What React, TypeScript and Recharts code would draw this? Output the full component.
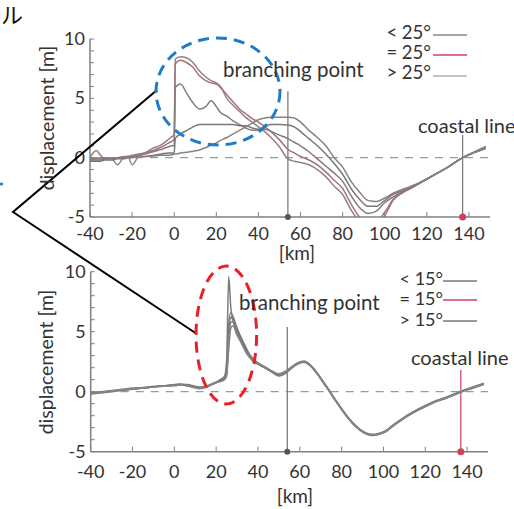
import React from 'react';
import { LineChart, Line, XAxis, YAxis, ReferenceLine, ReferenceDot } from 'recharts';

const FONT = 'Lato, "Open Sans", sans-serif';

// ---------- top panel (dip angles around 25°) ----------
const topKm = [-40, -37, -35, -33, -30, -27, -24, -22, -20, -17, -14, -10, -6, -3, -1, 0, 0.5, 3, 6, 9, 12, 15, 17.5, 20, 22, 25, 28, 31, 34, 37, 40, 43, 46, 50, 54, 57, 60, 64, 68, 72, 76, 80, 84, 88, 92, 96, 100, 104, 108, 112, 116, 120, 125, 130, 137, 142, 148];
const topA = [0.0, 0.6, 0.2, -0.1, 0.0, -0.6, 0.0, 0.1, -0.6, 0.1, 0.4, 0.8, 1.1, 1.5, 1.8, 1.9, 8.3, 8.5, 8.4, 8.0, 7.3, 6.8, 6.5, 6.3, 6.0, 5.0, 4.4, 3.9, 3.4, 3.0, 2.6, 2.2, 1.7, 0.9, -0.1, -0.3, -0.4, -0.6, -1.0, -1.6, -2.4, -3.1, -4.4, -5.4, -5.8, -5.6, -4.9, -3.6, -3.0, -2.6, -2.2, -1.8, -1.3, -0.8, 0.0, 0.45, 0.95];
const topB = [-0.2, -0.1, -0.1, -0.1, 0.0, 0.0, 0.1, 0.1, 0.2, 0.3, 0.4, 0.6, 0.9, 1.2, 1.4, 1.5, 7.9, 8.2, 8.0, 7.6, 6.9, 6.5, 6.3, 6.2, 5.9, 5.3, 4.7, 4.1, 3.7, 3.3, 3.0, 2.6, 2.2, 1.5, 0.7, 0.4, 0.1, -0.2, -0.6, -1.2, -1.9, -2.6, -3.9, -5.0, -5.5, -5.4, -4.6, -3.5, -3.0, -2.6, -2.2, -1.8, -1.3, -0.8, 0.0, 0.4, 0.85];
const topC = [-0.2, -0.2, -0.2, -0.1, -0.1, 0.0, 0.0, 0.1, 0.1, 0.2, 0.3, 0.5, 0.7, 0.9, 1.0, 1.0, 5.9, 6.2, 5.4, 4.6, 4.1, 4.3, 4.8, 4.3, 3.8, 3.5, 3.1, 2.8, 2.5, 2.3, 2.3, 2.4, 2.2, 1.9, 1.6, 1.3, 1.0, 0.5, -0.1, -0.7, -1.3, -2.0, -3.2, -4.2, -4.7, -4.5, -3.8, -3.3, -2.9, -2.6, -2.2, -1.8, -1.3, -0.8, 0.0, 0.4, 0.8];
const topD = [-0.3, -0.3, -0.3, -0.2, -0.2, -0.1, -0.1, 0.0, 0.0, 0.1, 0.1, 0.2, 0.3, 0.4, 0.4, 0.4, 1.6, 2.0, 2.3, 2.6, 2.8, 2.8, 2.8, 2.8, 2.8, 2.8, 2.8, 2.7, 2.7, 2.5, 2.4, 2.6, 2.8, 2.8, 2.75, 2.6, 2.2, 1.6, 1.0, 0.3, -0.5, -1.4, -2.6, -3.5, -4.1, -4.1, -3.6, -3.1, -2.8, -2.5, -2.2, -1.8, -1.3, -0.8, 0.0, 0.4, 0.8];
const topE = [-0.1, -0.1, 0.0, 0.0, 0.0, 0.0, 0.0, 0.05, 0.1, 0.1, 0.1, 0.15, 0.2, 0.2, 0.25, 0.3, 0.3, 0.4, 0.45, 0.55, 0.65, 0.85, 1.05, 1.25, 1.45, 1.7, 2.0, 2.3, 2.6, 2.9, 3.2, 3.35, 3.4, 3.4, 3.4, 3.35, 3.0, 2.3, 1.7, 1.0, 0.0, -0.8, -2.0, -2.9, -3.6, -3.7, -3.4, -3.0, -2.7, -2.45, -2.15, -1.8, -1.3, -0.8, 0.0, 0.4, 0.8];
const topColors = ['#8f8385', '#a8707c', '#857b7b', '#7b7676', '#8a8080'];

// ---------- bottom panel (dip angles around 15°) ----------
const botKm = [-40, -35, -30, -25, -20, -15, -10, -5, 0, 3, 6, 9, 12, 15, 18, 20, 22, 24, 25, 26, 27, 28, 30, 32, 34, 36, 38, 40, 43, 46, 50, 53, 56, 59, 62, 65, 68, 71, 74, 77, 80, 83, 86, 89, 92, 95, 98, 101, 104, 108, 112, 116, 120, 125, 130, 137, 142, 148];
const botA = [-0.15, -0.05, 0.05, 0.15, 0.25, 0.3, 0.4, 0.5, 0.55, 0.6, 0.5, 0.4, 0.3, 0.4, 0.6, 0.75, 1.0, 1.3, 2.6, 9.6, 7.0, 6.0, 5.0, 4.3, 3.6, 3.0, 2.6, 2.35, 2.05, 1.75, 1.35, 1.55, 2.0, 2.35, 2.5, 2.2, 1.6, 0.85, 0.1, -0.7, -1.45, -2.15, -2.75, -3.2, -3.5, -3.6, -3.5, -3.3, -2.9, -2.4, -1.95, -1.55, -1.2, -0.8, -0.5, 0.0, 0.3, 0.65];
const botB = [-0.1, 0.0, 0.1, 0.2, 0.3, 0.35, 0.45, 0.5, 0.6, 0.65, 0.6, 0.5, 0.4, 0.45, 0.65, 0.8, 1.0, 1.2, 1.8, 5.6, 6.6, 6.3, 5.3, 4.5, 3.8, 3.1, 2.7, 2.4, 2.1, 1.8, 1.5, 1.7, 2.05, 2.4, 2.55, 2.25, 1.65, 0.9, 0.15, -0.65, -1.4, -2.1, -2.7, -3.15, -3.45, -3.55, -3.45, -3.25, -2.85, -2.35, -1.9, -1.5, -1.15, -0.75, -0.45, 0.05, 0.35, 0.7];
const botC = [-0.15, -0.05, 0.05, 0.15, 0.25, 0.3, 0.4, 0.5, 0.55, 0.6, 0.55, 0.45, 0.35, 0.45, 0.65, 0.8, 0.95, 1.15, 1.5, 4.8, 6.2, 6.0, 5.1, 4.4, 3.6, 3.0, 2.6, 2.35, 2.05, 1.75, 1.4, 1.6, 2.0, 2.35, 2.5, 2.2, 1.6, 0.85, 0.1, -0.7, -1.45, -2.15, -2.75, -3.2, -3.5, -3.6, -3.5, -3.3, -2.9, -2.4, -1.95, -1.55, -1.2, -0.8, -0.5, 0.0, 0.3, 0.65];
const botD = [-0.2, -0.1, 0.0, 0.1, 0.2, 0.3, 0.4, 0.45, 0.5, 0.55, 0.5, 0.4, 0.3, 0.4, 0.6, 0.75, 0.9, 1.1, 1.4, 4.2, 5.8, 5.8, 4.9, 4.2, 3.45, 2.9, 2.5, 2.3, 2.0, 1.7, 1.3, 1.5, 1.95, 2.3, 2.45, 2.15, 1.55, 0.8, 0.05, -0.75, -1.5, -2.2, -2.8, -3.25, -3.55, -3.65, -3.55, -3.35, -2.95, -2.45, -2.0, -1.6, -1.25, -0.85, -0.55, -0.05, 0.25, 0.6];
const botE = [-0.15, -0.05, 0.05, 0.15, 0.25, 0.3, 0.4, 0.5, 0.55, 0.6, 0.5, 0.35, 0.25, 0.35, 0.6, 0.75, 0.85, 1.0, 1.3, 3.5, 5.3, 5.5, 4.7, 4.05, 3.35, 2.85, 2.45, 2.3, 2.0, 1.75, 1.45, 1.65, 2.05, 2.4, 2.5, 2.2, 1.6, 0.85, 0.1, -0.7, -1.45, -2.15, -2.75, -3.2, -3.5, -3.6, -3.5, -3.3, -2.9, -2.4, -1.95, -1.55, -1.2, -0.8, -0.5, 0.0, 0.3, 0.65];
const botColors = ['#7a7a7a', '#808080', '#777777', '#7d7d7d', '#858585'];

// ---------- axes / markers ----------
const xTicks = [-40, -20, 0, 20, 40, 60, 80, 100, 120, 140];
const yTicks = [-5, -4, -3, -2, -1, 0, 1, 2, 3, 4, 5, 6, 7, 8, 9, 10];
const branchKm = 54;
const coastKm = 137;
const topBranchTop = 5.6;
const topCoastTop = 1.9;
const botBranchTop = 5.4;
const botCoastTop = 1.8;

const keys = ['a', 'b', 'c', 'd', 'e'];

function makeRows(km: number[], series: number[][]) {
  return km.map((k, i) => {
    const row: any = { km: k };
    series.forEach((s, j) => { row[keys[j]] = s[i]; });
    return row;
  });
}

const topData = makeRows(topKm, [topA, topB, topC, topD, topE]);
const botData = makeRows(botKm, [botA, botB, botC, botD, botE]);

const AXIS = '#808080';

const makeYTick = (dy: number) => (props: any) => {
  const { x, y, payload } = props;
  const v = payload.value;
  return (
    <g>
      <line x1={x} x2={x + 4} y1={y} y2={y} stroke={AXIS} strokeWidth={1} />
      {v % 5 === 0 && (
        <text x={x - 5} y={y + dy} textAnchor="end" fontSize={18} fill="#333" fontFamily={FONT}>{v}</text>
      )}
    </g>
  );
};

const makeXTick = (dy: number) => (props: any) => {
  const { x, y, payload } = props;
  return (
    <g>
      <line x1={x} x2={x} y1={y} y2={y - 5} stroke={AXIS} strokeWidth={1} />
      <text x={x} y={y + dy} textAnchor="middle" fontSize={18} fill="#333" fontFamily={FONT}>{payload.value}</text>
    </g>
  );
};

function Panel(props: {
  data: any[]; colors: string[]; margin: any; height: number; xDy: number;
  branchTop: number; coastTop: number; coastColor: string;
}) {
  const { data, colors, margin, height, xDy, branchTop, coastTop, coastColor } = props;
  return (
    <LineChart width={514} height={height} data={data} margin={margin}>
      <XAxis dataKey="km" type="number" domain={[-40, 150]} allowDataOverflow ticks={xTicks} interval={0}
        height={30} tickSize={0} tickMargin={0} tickLine={false}
        axisLine={{ stroke: AXIS, strokeWidth: 1.5 }} tick={makeXTick(xDy)} />
      <YAxis type="number" domain={[-5, 10]} allowDataOverflow ticks={yTicks} interval={0}
        width={40} tickSize={0} tickMargin={0} tickLine={false}
        axisLine={{ stroke: AXIS, strokeWidth: 1.5 }} tick={makeYTick(6)} />
      <ReferenceLine y={0} stroke="#9a9a9a" strokeWidth={1.2} strokeDasharray="8 7" />
      <ReferenceLine segment={[{ x: branchKm, y: branchTop }, { x: branchKm, y: -5 }]} stroke="#707070" strokeWidth={1.2} />
      <ReferenceLine segment={[{ x: coastKm, y: coastTop }, { x: coastKm, y: -5 }]} stroke={coastColor} strokeWidth={1.2} />
      {keys.map((k, i) => (
        <Line key={k} dataKey={k} type="monotoneX" stroke={colors[i]} strokeWidth={1.5}
          dot={false} activeDot={false} isAnimationActive={false} />
      ))}
      <ReferenceDot x={branchKm} y={-5} r={3} fill="#555" stroke="none" ifOverflow="visible" />
      <ReferenceDot x={coastKm} y={-5} r={3.5} fill="#d0405c" stroke="none" ifOverflow="visible" />
    </LineChart>
  );
}

export default function App() {
  const txt = { fontFamily: FONT, fill: '#333' } as any;
  return (
    <div style={{ position: 'absolute', left: 0, top: 0, width: 514, height: 509, background: '#fff', overflow: 'hidden' }}>
      <div style={{ position: 'absolute', left: 0, top: 0 }}>
        <Panel data={topData} colors={topColors} height={260}
          margin={{ top: 39, right: 24, bottom: 13, left: 50 }} xDy={23}
          branchTop={topBranchTop} coastTop={topCoastTop} coastColor="#777" />
      </div>
      <div style={{ position: 'absolute', left: 0, top: 254 }}>
        <Panel data={botData} colors={botColors} height={255}
          margin={{ top: 17.7, right: 26, bottom: 27.3, left: 50.7 }} xDy={26}
          branchTop={botBranchTop} coastTop={botCoastTop} coastColor="#c8405a" />
      </div>
      <svg width={514} height={509} style={{ position: 'absolute', left: 0, top: 0, pointerEvents: 'none' }}>
        <text x={1} y={23} fontSize={22} fontFamily='"Noto Sans CJK JP", sans-serif' fill="#111">ル</text>
        <circle cx={1.5} cy={184} r={1.6} fill="#1f77d0" />
        <polyline points="157,90 13,212 197,334" fill="none" stroke="#000" strokeWidth={2} />
        <ellipse cx={218} cy={91.5} rx={62} ry={53.5} fill="none" stroke="#1f7bc8" strokeWidth={3} strokeDasharray="11 7" />
        <ellipse cx={226.3} cy={335} rx={30.3} ry={69} fill="none" stroke="#e82028" strokeWidth={3} strokeDasharray="11 7" />

        {/* axis titles */}
        <text transform="translate(54,118) rotate(-90)" textAnchor="middle" fontSize={19.5} {...txt}>displacement [m]</text>
        <text transform="translate(53,362) rotate(-90)" textAnchor="middle" fontSize={19.5} {...txt}>displacement [m]</text>
        <text x={297} y={260} textAnchor="middle" fontSize={19} {...txt}>[km]</text>
        <text x={295} y={503} textAnchor="middle" fontSize={19} {...txt}>[km]</text>

        {/* annotations */}
        <text x={223} y={77} fontSize={20.5} {...txt}>branching point</text>
        <text x={418} y={133} fontSize={20} {...txt}>coastal line</text>
        <text x={239} y={310} fontSize={20.5} {...txt}>branching point</text>
        <text x={411} y={365} fontSize={20} {...txt}>coastal line</text>

        {/* legends */}
        <text x={431} y={39} textAnchor="end" fontSize={18.5} {...txt}>&lt; 25°</text>
        <text x={431} y={59} textAnchor="end" fontSize={18.5} {...txt}>= 25°</text>
        <text x={431} y={79} textAnchor="end" fontSize={18.5} {...txt}>&gt; 25°</text>
        <line x1={433} x2={467} y1={35} y2={35} stroke="#888" strokeWidth={1.3} />
        <line x1={433} x2={467} y1={55} y2={55} stroke="#d04060" strokeWidth={1.3} />
        <line x1={433} x2={467} y1={76} y2={76} stroke="#a6b6b6" strokeWidth={1.3} />

        <text x={443} y={285} textAnchor="end" fontSize={18} {...txt}>&lt; 15°</text>
        <text x={443} y={305} textAnchor="end" fontSize={18} {...txt}>= 15°</text>
        <text x={443} y={326} textAnchor="end" fontSize={18} {...txt}>&gt; 15°</text>
        <line x1={443} x2={477} y1={281} y2={281} stroke="#777" strokeWidth={1.3} />
        <line x1={443} x2={477} y1={300} y2={300} stroke="#d04060" strokeWidth={1.3} />
        <line x1={443} x2={477} y1={321} y2={321} stroke="#777" strokeWidth={1.3} />
      </svg>
    </div>
  );
}
